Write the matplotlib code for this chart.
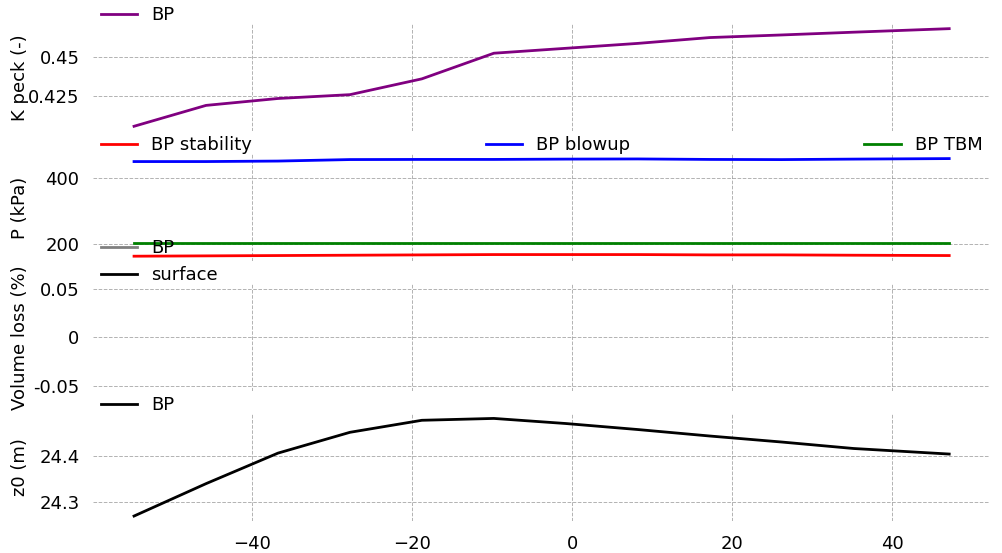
import matplotlib
matplotlib.use("Agg")
import matplotlib.pyplot as plt
import numpy as np
from matplotlib.ticker import MultipleLocator, FormatStrFormatter

# chainage positions (m)
x = [-54.8, -45.8, -36.8, -27.8, -18.8, -9.8, -0.8, 8.2, 17.2, 26.2, 35.2, 47.15]

k_peck = [0.405, 0.4186, 0.4231, 0.4256, 0.4359, 0.4526, 0.4558, 0.459, 0.4628, 0.4645, 0.4663, 0.4686]

p_stability = [162, 163, 164, 165, 166, 167, 167, 167, 166, 166, 165, 164]
p_blowup = [451.5, 451.5, 453, 457.6, 458, 458, 459, 459.5, 458, 457.5, 459, 460.6]
p_tbm = [203] * 12

vl_bp = [np.nan] * 12
vl_surface = [np.nan] * 12

z0 = [24.270, 24.340, 24.406, 24.451, 24.477, 24.481, 24.470, 24.457, 24.443, 24.430, 24.416, 24.404]

plt.rcParams['font.size'] = 13

fig, axes = plt.subplots(4, 1, sharex=True, figsize=(10.03, 5.53), dpi=100)
fig.subplots_adjust(left=0.093, right=0.987, top=0.957, bottom=0.058, hspace=0.21)

ax1, ax2, ax3, ax4 = axes

ax1.plot(x, k_peck, color='purple', lw=2, label='BP')
ax1.set_ylabel('K peck (-)')
ax1.yaxis.set_major_locator(MultipleLocator(0.025))

ax2.plot(x, p_stability, color='red', lw=2, label='BP stability')
ax2.plot(x, p_blowup, color='blue', lw=2, label='BP blowup')
ax2.plot(x, p_tbm, color='green', lw=2, label='BP TBM')
ax2.set_ylabel('P (kPa)')
ax2.yaxis.set_major_locator(MultipleLocator(200))

ax3.plot(x, vl_bp, color='gray', lw=2, label='BP')
ax3.plot(x, vl_surface, color='black', lw=2, label='surface')
ax3.set_ylim(-0.055, 0.055)
ax3.set_ylabel('Volume loss (%)')
ax3.yaxis.set_major_locator(MultipleLocator(0.05))

ax4.plot(x, z0, color='black', lw=2, label='BP')
ax4.set_ylabel('z0 (m)')
ax4.yaxis.set_major_locator(MultipleLocator(0.1))

for ax in axes:
    for s in ax.spines.values():
        s.set_visible(False)
    ax.grid(True, linestyle='--', color='gray', alpha=0.6, lw=0.7)
    ax.tick_params(axis='y', length=0, pad=10)
    ax.tick_params(axis='x', length=0, pad=10)
    ax.yaxis.set_major_formatter(FormatStrFormatter('%g'))
    ax.yaxis.set_label_coords(-0.072, 0.5)
    if ax is ax2:
        ax.legend(loc='lower left', bbox_to_anchor=(0, 0.93, 1, 0), ncol=3,
                  mode='expand', frameon=False, borderaxespad=0)
    else:
        ax.legend(loc='lower left', bbox_to_anchor=(0, 0.93), frameon=False,
                  borderaxespad=0)

fig.savefig('out.png', dpi=100)
